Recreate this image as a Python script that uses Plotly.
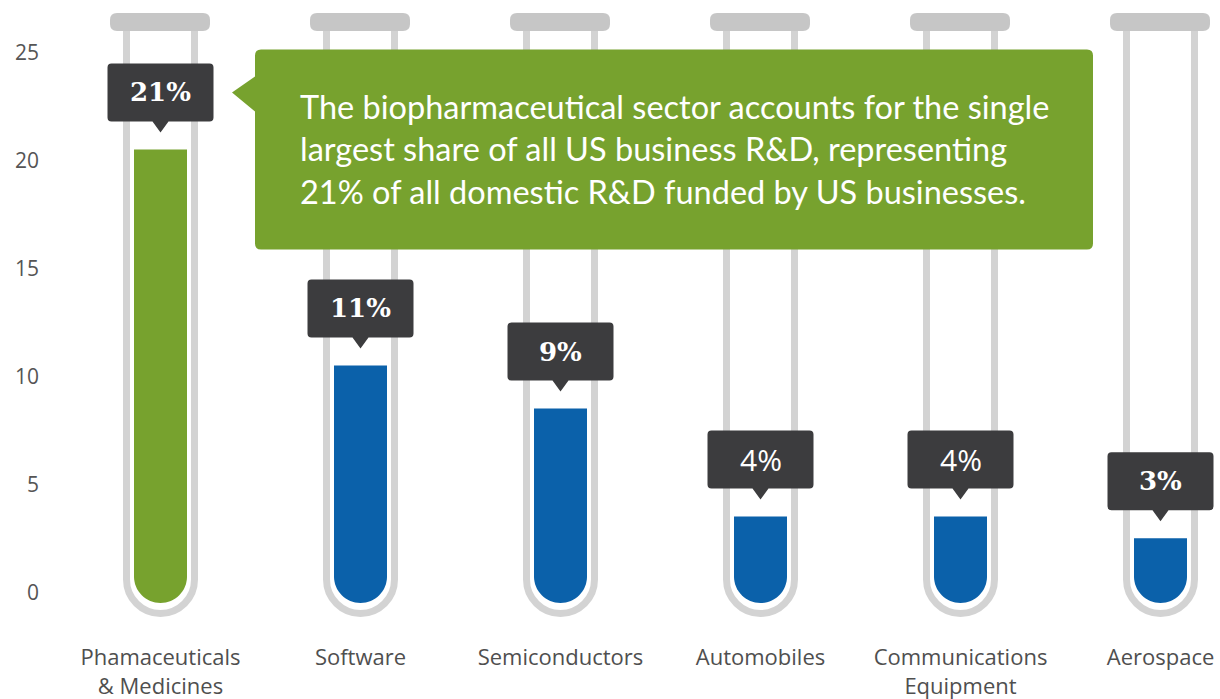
import plotly.graph_objects as go

# --- data ---
categories = ["Phamaceuticals<br>&amp; Medicines", "Software", "Semiconductors",
              "Automobiles", "Communications<br>Equipment", "Aerospace"]
shares = [21, 11, 9, 4, 4, 3]
share_labels = ["21%", "11%", "9%", "4%", "4%", "3%"]
y_ticks = [0, 5, 10, 15, 20, 25]
callout_text = ("The biopharmaceutical sector accounts for the single<br>"
                "largest share of all US business R&amp;D, representing<br>"
                "21% of all domestic R&amp;D funded by US businesses.")

# --- styling ---
GREEN = "#77a22e"
BLUE = "#0b61aa"
fill_colors = [GREEN, BLUE, BLUE, BLUE, BLUE, BLUE]
label_fonts = ["DejaVu Serif", "DejaVu Serif", "DejaVu Serif",
               "Open Sans", "Open Sans", "DejaVu Serif"]
TUBE = "#d3d3d3"
CAP = "#c6c6c6"
DARK = "#3c3c3e"
K = 0.5523  # bezier constant for quarter circles

# plot geometry
HEIGHT, MARGIN_B = 699, 59
Y_RANGE = [-1.713, 27.917]
PX_PER_UNIT = (HEIGHT - MARGIN_B) / (Y_RANGE[1] - Y_RANGE[0])
FILL_HALF = 26.5                      # half width of the liquid, px
FILL_RY = FILL_HALF / PX_PER_UNIT     # same radius in y units

x_pos = list(range(len(categories)))


def rounded_rect(x0, x1, y0, y1, r):
    return (f"M {x0 + r},{y1} L {x1 - r},{y1} Q {x1},{y1} {x1},{y1 - r} "
            f"L {x1},{y0 + r} Q {x1},{y0} {x1 - r},{y0} L {x0 + r},{y0} "
            f"Q {x0},{y0} {x0},{y0 + r} L {x0},{y1 - r} Q {x0},{y1} {x0 + r},{y1} Z")


def tube_path(half, top, bottom):
    c = bottom + half
    return (f"M {-half},{top} L {-half},{c} "
            f"C {-half},{c - half * K} {-half * K},{bottom} 0,{bottom} "
            f"C {half * K},{bottom} {half},{c - half * K} {half},{c} "
            f"L {half},{top}")


def liquid_path(value):
    # x in pixels around the tube centre, y in data units (flat top, round bottom)
    h, ry = FILL_HALF, FILL_RY
    return (f"M {-h},{value} L {h},{value} L {h},{ry} "
            f"C {h},{ry * (1 - K)} {h * K},0 0,0 "
            f"C {-h * K},0 {-h},{ry * (1 - K)} {-h},{ry} Z")


def label_box(half, bot, top, tip, ptr, r):
    return (f"M {-half + r},{top} L {half - r},{top} Q {half},{top} {half},{top - r} "
            f"L {half},{bot + r} Q {half},{bot} {half - r},{bot} L {ptr},{bot} "
            f"L 0,{tip} L {-ptr},{bot} L {-half + r},{bot} Q {-half},{bot} {-half},{bot + r} "
            f"L {-half},{top - r} Q {-half},{top} {-half + r},{top} Z")


def callout_box(x0, x1, y0, y1, tip_x, tip_y, pb0, pb1, r):
    return (f"M {x0 + r},{y1} L {x1 - r},{y1} Q {x1},{y1} {x1},{y1 - r} "
            f"L {x1},{y0 + r} Q {x1},{y0} {x1 - r},{y0} L {x0 + r},{y0} "
            f"Q {x0},{y0} {x0},{y0 + r} L {x0},{pb0} L {tip_x},{tip_y} L {x0},{pb1} "
            f"L {x0},{y1 - r} Q {x0},{y1} {x0 + r},{y1} Z")


fig = go.Figure()
# invisible trace carrying the values (keeps axes and hover data)
fig.add_trace(go.Scatter(x=x_pos, y=shares, mode="markers",
                         marker=dict(opacity=0), hoverinfo="skip", showlegend=False))

shapes = []
for i in x_pos:
    # glass tube outline
    shapes.append(dict(type="path", xref="x", yref="y", xsizemode="pixel", ysizemode="pixel",
                       xanchor=i, yanchor=0, layer="below",
                       path=tube_path(34, 574, -10.5),
                       line=dict(color=TUBE, width=7), fillcolor="rgba(0,0,0,0)"))
    # cap
    shapes.append(dict(type="path", xref="x", yref="y", xsizemode="pixel", ysizemode="pixel",
                       xanchor=i, yanchor=0, layer="below",
                       path=rounded_rect(-50.5, 49.5, 572, 590, 7),
                       line=dict(width=0), fillcolor=CAP))

# liquid level in each tube
for i, v, c in zip(x_pos, shares, fill_colors):
    shapes.append(dict(type="path", xref="x", yref="y", xsizemode="pixel", ysizemode="scaled",
                       xanchor=i, layer="above", path=liquid_path(v),
                       line=dict(width=0), fillcolor=c))

# callout box pointing at the first tube's label
shapes.append(dict(type="path", xref="x", yref="y", xsizemode="pixel", ysizemode="pixel",
                   xanchor=0, yanchor=shares[0], layer="above",
                   path=callout_box(94.5, 932.5, -100, 100, 71.5, 57, 38, 73, 6),
                   line=dict(width=0), fillcolor=GREEN))

# value label boxes
for i, v in zip(x_pos, shares):
    shapes.append(dict(type="path", xref="x", yref="y", xsizemode="pixel", ysizemode="pixel",
                       xanchor=i, yanchor=v, layer="above",
                       path=label_box(53, 28, 86, 17, 8, 4),
                       line=dict(width=0), fillcolor=DARK))

annotations = []
for i, v, t, f in zip(x_pos, shares, share_labels, label_fonts):
    bold = f.startswith("DejaVu")
    annotations.append(dict(
        x=i, y=v, xref="x", yref="y", yshift=57, showarrow=False,
        text=f"<b>{t}</b>" if bold else t,
        font=dict(family=f, size=26 if bold else 30, color="white"),
        xanchor="center", yanchor="middle"))

annotations.append(dict(
    x=0, y=shares[0], xref="x", yref="y", xshift=137, yshift=0,
    showarrow=False, text=callout_text, align="left",
    xanchor="left", yanchor="middle",
    font=dict(family="Lato", size=32.5, color="white")))

fig.update_layout(
    width=1220, height=HEIGHT,
    margin=dict(l=60, r=0, t=0, b=MARGIN_B),
    paper_bgcolor="white", plot_bgcolor="white",
    shapes=shapes, annotations=annotations,
    xaxis=dict(range=[-0.5025, 5.2975], tickvals=x_pos, ticktext=categories,
               showgrid=False, zeroline=False, showline=False, ticks="",
               ticklabelstandoff=2,
               tickfont=dict(family="Open Sans", size=22, color="#4f4f4f"),
               fixedrange=True),
    yaxis=dict(range=Y_RANGE, tickvals=y_ticks,
               showgrid=False, zeroline=False, showline=False, ticks="",
               ticklabelshift=-10, ticklabelstandoff=20,
               tickfont=dict(family="Open Sans", size=21, color="#555555"),
               fixedrange=True),
    showlegend=False,
)

fig.write_html("out.html")
